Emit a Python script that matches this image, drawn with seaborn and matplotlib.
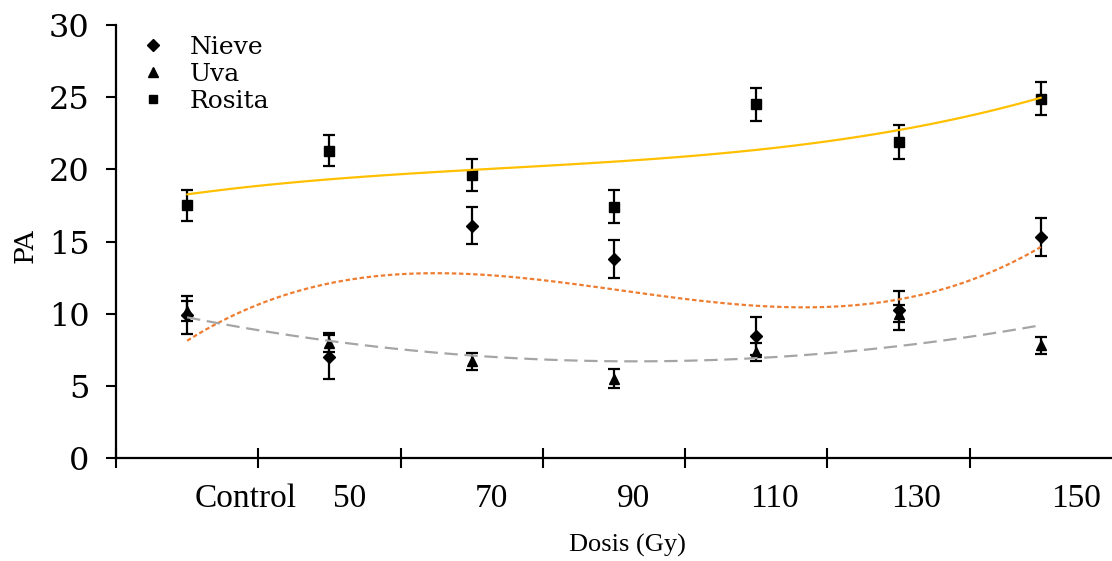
import numpy as np
import pandas as pd
import matplotlib
matplotlib.use("Agg")
import matplotlib.pyplot as plt
import seaborn as sns

# categories (dose) and measured PA with error bars
doses = ["Control", "50", "70", "90", "110", "130", "150"]
nieve = [9.9, 7.0, 16.1, 13.8, 8.45, 10.25, 15.3]
nieve_err = [1.3, 1.5, 1.3, 1.3, 1.3, 1.35, 1.3]
uva = [10.2, 8.0, 6.7, 5.5, 7.35, 10.0, 7.8]
uva_err = [0.7, 0.65, 0.6, 0.65, 0.6, 0.6, 0.6]
rosita = [17.5, 21.3, 19.6, 17.4, 24.5, 21.9, 24.9]
rosita_err = [1.1, 1.1, 1.1, 1.15, 1.15, 1.15, 1.15]
label_pos = [0.41, 1.14, 2.14, 3.14, 4.13, 5.12, 6.25]

pos = np.arange(len(doses))

sns.set_style("ticks")
plt.rcParams["font.family"] = ["DejaVu Serif"]
plt.rcParams["text.color"] = "black"
plt.rcParams["xtick.color"] = "black"
plt.rcParams["ytick.color"] = "black"
plt.rcParams["axes.labelcolor"] = "black"

fig = plt.figure(figsize=(11.12, 5.61), dpi=100)
ax = fig.add_axes([0.1043, 0.1836, 0.8957, 0.7718])

series = [
    ("Nieve", nieve, nieve_err, "D", 6.5, "#ED7D31", (0, (2, 1.2)), 3),
    ("Uva", uva, uva_err, "^", 7.5, "#A5A5A5", (0, (6, 3)), 2),
    ("Rosita", rosita, rosita_err, "s", 7, "#FFC000", "-", 3),
]

handles = []
for name, vals, err, mk, ms, col, ls, order in series:
    ax.errorbar(pos, vals, yerr=err, fmt="none", ecolor="black",
                elinewidth=1.6, capsize=4, capthick=1.6, zorder=2)
    h, = ax.plot(pos, vals, ls="none", marker=mk, ms=ms, color="black",
                 label=name, zorder=3)
    handles.append(h)
    sns.regplot(x=pos, y=vals, order=order, ci=None, scatter=False, truncate=True,
                ax=ax, line_kws={"color": col, "lw": 1.6, "ls": ls, "zorder": 4})

ax.set_xlim(-0.5, 6.5)
ax.set_ylim(0, 30)
ax.set_yticks(range(0, 31, 5))
ax.set_xticks(np.arange(-0.5, 6.0, 1.0))
ax.set_xticklabels([])
ax.set_xticks(label_pos, minor=True)
ax.set_xticklabels(doses, minor=True, family="Liberation Serif", fontsize=24)
ax.tick_params(axis="x", which="major", direction="inout", length=15, width=1.5)
ax.tick_params(axis="x", which="minor", length=0, pad=18)
ax.tick_params(axis="y", direction="out", length=7, width=1.5, labelsize=23, pad=12)

for s in ["top", "right"]:
    ax.spines[s].set_visible(False)
for s in ["left", "bottom"]:
    ax.spines[s].set_linewidth(1.6)
    ax.spines[s].set_color("black")

ax.set_xlabel("Dosis (Gy)", family="Liberation Serif", fontsize=19)
ax.xaxis.set_label_coords(0.514, -0.175)
ax.set_ylabel("PA", fontsize=19)
ax.yaxis.set_label_coords(-0.079, 0.49)

ax.legend(handles=handles, loc="upper left", bbox_to_anchor=(-0.006, 1.015),
          frameon=False, fontsize=18, markerscale=0.9, handletextpad=0.5,
          labelspacing=0.16, handlelength=2.0, borderaxespad=0.3)

fig.savefig("out.png", dpi=100)
